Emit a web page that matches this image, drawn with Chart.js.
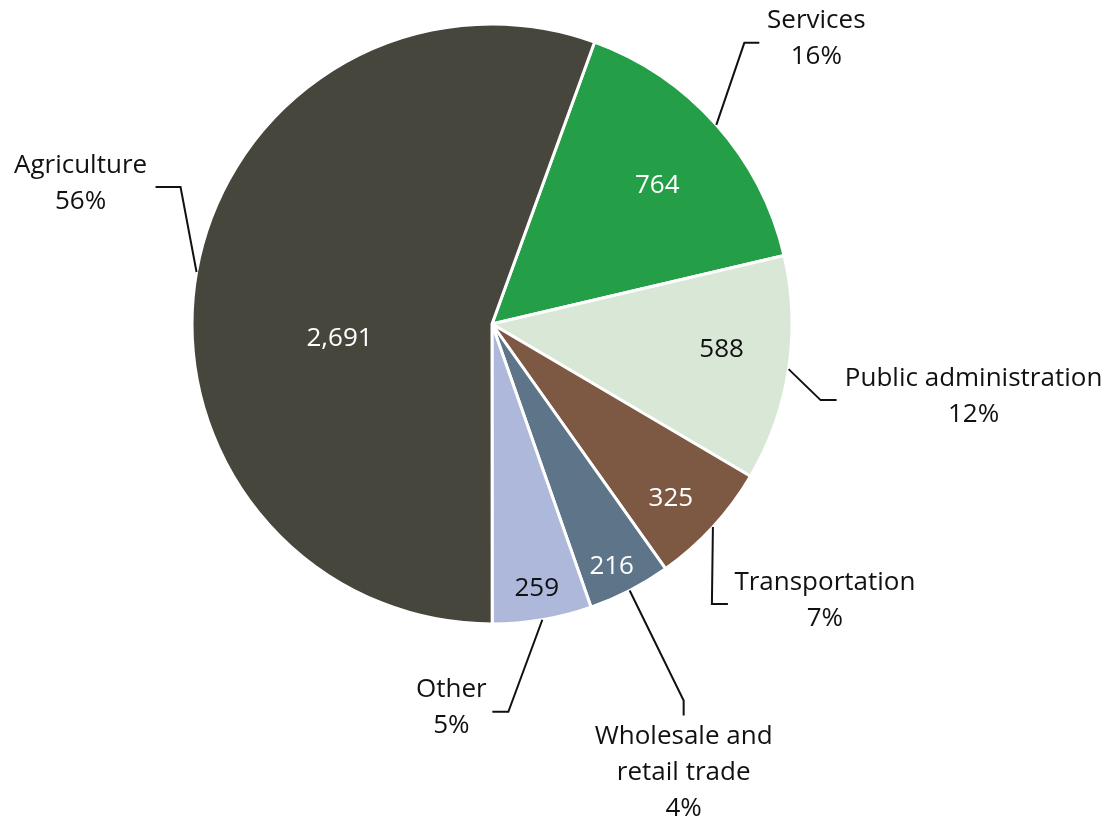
<!DOCTYPE html>
<html>
<head>
<meta charset="utf-8">
<script src="https://cdn.jsdelivr.net/npm/chart.js@4.4.1/dist/chart.umd.min.js"></script>
<style>
  html, body { margin: 0; padding: 0; background: #fff; }
</style>
</head>
<body>
<canvas id="chart" width="1112" height="824"></canvas>
<script>
// data, clockwise starting at Services
const categories = ['Services', 'Public administration', 'Transportation', 'Wholesale and retail trade', 'Other', 'Agriculture'];
const labelLines = [['Services'], ['Public administration'], ['Transportation'], ['Wholesale and', 'retail trade'], ['Other'], ['Agriculture']];
const values = [764, 588, 325, 216, 259, 2691];
const percentLabels = ['16%', '12%', '7%', '4%', '5%', '56%'];
const valueLabels = ['764', '588', '325', '216', '259', '2,691'];

const colors = ['#249f48', '#d9e7d6', '#7d5843', '#5d7489', '#adb8db', '#47463c'];
const valueColors = ['#fff', '#111', '#fff', '#fff', '#111', '#fff'];

// label layout: inner value radius fraction / angle tweak (deg),
// leader elbow offset from the arc edge, then a short tail, then text offset from the tail end
const layout = [
    { r: 0.72, da: 1.5, elbow: [28, -82], tail: [15, 0], text: [57, -22] },
    { r: 0.77, da: -2.5, elbow: [32, 31], tail: [16, 0], text: [137, -22] },
    { r: 0.83, da: 1.5, elbow: [-1, 77], tail: [16, 0], text: [97, -21] },
    { r: 0.90, da: 1, elbow: [54, 110], tail: [0, 15], text: [0, 21] },
    { r: 0.89, da: 0, elbow: [-34, 92], tail: [-16, 0], text: [-41, -22] },
    { r: 0.51, da: -15, elbow: [-16, -85], tail: [-25, 0], text: [-75, -21] },
];

const FONT = '26px "Open Sans", "Noto Sans", sans-serif';
const LINE_H = 36;

const pieLabels = {
    id: 'pieLabels',
    afterDatasetsDraw(chart) {
        const ctx = chart.ctx;
        const arcs = chart.getDatasetMeta(0).data;
        ctx.save();
        ctx.font = FONT;
        ctx.textAlign = 'center';
        ctx.textBaseline = 'middle';
        arcs.forEach((arc, i) => {
            const { x, y, startAngle, endAngle, outerRadius } = arc.getProps(['x', 'y', 'startAngle', 'endAngle', 'outerRadius'], true);
            const mid = (startAngle + endAngle) / 2;
            const L = layout[i];

            // value inside the slice
            const a = mid + L.da * Math.PI / 180;
            ctx.fillStyle = valueColors[i];
            ctx.fillText(valueLabels[i], x + Math.cos(a) * outerRadius * L.r, y + 1 + Math.sin(a) * outerRadius * L.r);

            // leader line
            const sx = x + Math.cos(mid) * outerRadius;
            const sy = y + Math.sin(mid) * outerRadius;
            const ex = sx + L.elbow[0], ey = sy + L.elbow[1];
            const tx = ex + L.tail[0], ty = ey + L.tail[1];
            ctx.strokeStyle = '#111';
            ctx.lineWidth = 2;
            ctx.beginPath();
            ctx.moveTo(sx, sy);
            ctx.lineTo(ex, ey);
            ctx.lineTo(tx, ty);
            ctx.stroke();

            // category name + share
            const lines = labelLines[i].concat([percentLabels[i]]);
            ctx.fillStyle = '#111';
            lines.forEach((line, k) => {
                ctx.fillText(line, tx + L.text[0], ty + L.text[1] + k * LINE_H);
            });
        });
        ctx.restore();
    }
};

new Chart(document.getElementById('chart'), {
    type: 'pie',
    data: {
        labels: categories,
        datasets: [{
            data: values,
            backgroundColor: colors,
            borderColor: '#ffffff',
            borderWidth: 3,
        }],
    },
    options: {
        responsive: false,
        animation: false,
        rotation: 20,
        radius: 300,
        layout: {
            padding: { left: 190, right: 318, top: 20, bottom: 196 },
        },
        plugins: {
            legend: { display: false },
            tooltip: { enabled: false },
        },
    },
    plugins: [pieLabels],
});
</script>
</body>
</html>
